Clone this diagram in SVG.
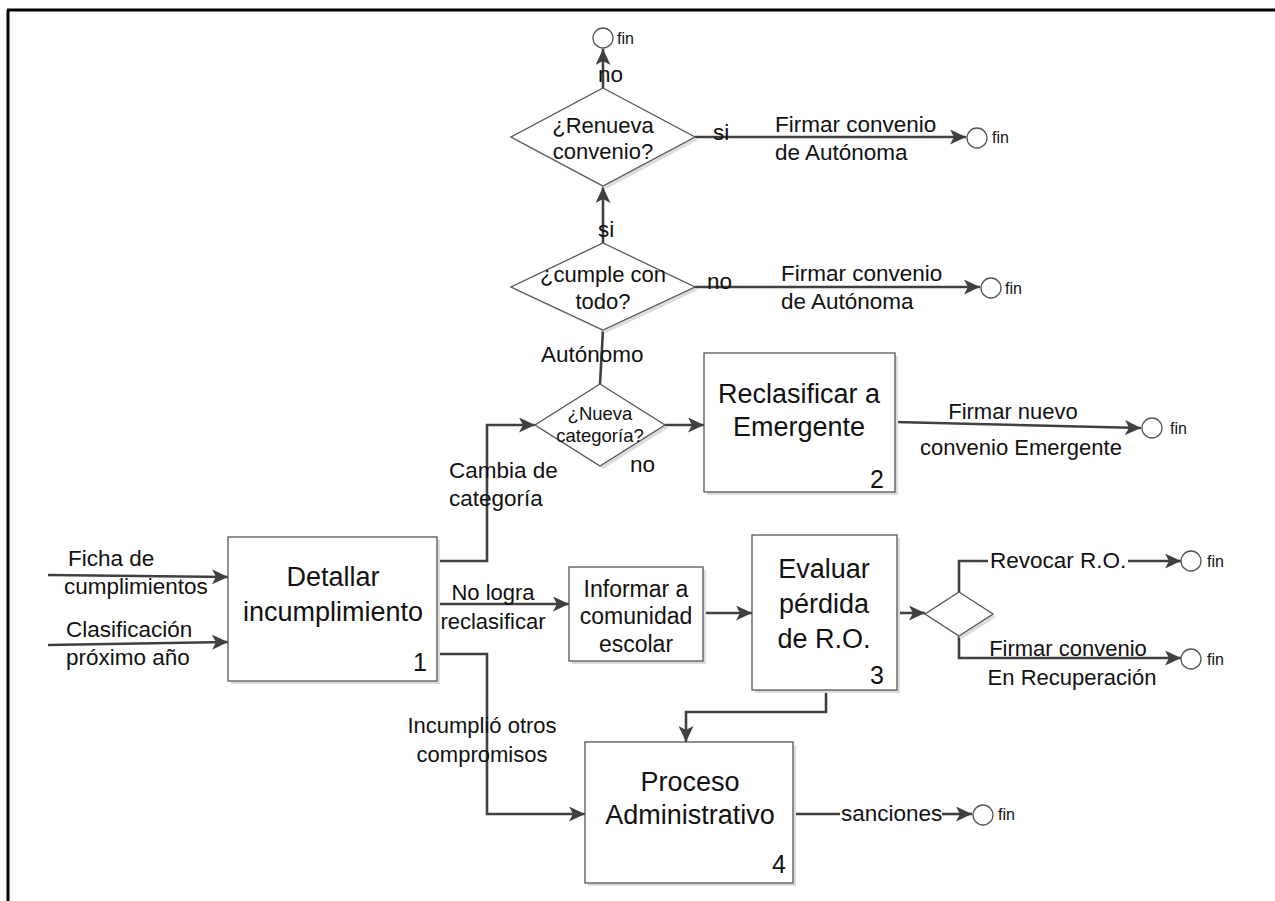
<svg xmlns="http://www.w3.org/2000/svg" width="1275" height="901" viewBox="0 0 1275 901">
<style>
text{font-family:"Liberation Sans",Arial,sans-serif;fill:#111}
.big{font-size:27px;text-anchor:middle}
.mid{font-size:23px;text-anchor:middle}
.lbl{font-size:22.5px}
.lblc{font-size:22px;text-anchor:middle}
.dtx{font-size:22px;text-anchor:middle}
.sm{font-size:16px}
.num{font-size:25px;text-anchor:end}
.box{fill:#fff;stroke:#555;stroke-width:1.3}
.shd{fill:#dcdcdc}
.dia{fill:#fff;stroke:#555;stroke-width:1.3}
.end{fill:#fff;stroke:#555;stroke-width:1.3}
.c{fill:none;stroke:#404040;stroke-width:2.6}
</style>
<defs>
<marker id="arr" markerUnits="userSpaceOnUse" markerWidth="17" markerHeight="15" refX="16" refY="7.5" orient="auto">
<path d="M0,0 L16,7.5 L0,15 L4,7.5 z" fill="#404040"/>
</marker>
</defs>
<rect width="1275" height="901" fill="#fff"/>
<path d="M7,10 H1275 M8,10 V901" fill="none" stroke="#000" stroke-width="3"/>

<g id="connectors">
<path class="c" d="M603,88 V49" marker-end="url(#arr)"/>
<path class="c" d="M695,137 H966" marker-end="url(#arr)"/>
<path class="c" d="M603,243 V187" marker-end="url(#arr)"/>
<path class="c" d="M695,287 H980" marker-end="url(#arr)"/>
<path class="c" d="M600,384 L603,330"/>
<path class="c" d="M437,561 H487 V425 H535" marker-end="url(#arr)"/>
<path class="c" d="M665,425 H704" marker-end="url(#arr)"/>
<path class="c" d="M895,422 L1141,428" marker-end="url(#arr)"/>
<path class="c" d="M48,575 L228,577" marker-end="url(#arr)"/>
<path class="c" d="M48,645 L228,642" marker-end="url(#arr)"/>
<path class="c" d="M437,604 H569" marker-end="url(#arr)"/>
<path class="c" d="M703,613 H752" marker-end="url(#arr)"/>
<path class="c" d="M897,613 H925" marker-end="url(#arr)"/>
<path class="c" d="M959,592 V561 H988"/>
<path class="c" d="M1128,561 H1181" marker-end="url(#arr)"/>
<path class="c" d="M959,636 V658 H1181" marker-end="url(#arr)"/>
<path class="c" d="M826,690 V712 H686 V742" marker-end="url(#arr)"/>
<path class="c" d="M437,654 H487 V814 H585" marker-end="url(#arr)"/>
<path class="c" d="M793,814 H840"/>
<path class="c" d="M942,814 H972" marker-end="url(#arr)"/>
</g>

<g id="labels">
<text class="lbl" x="598" y="82">no</text>
<text class="lbl" x="713" y="140">si</text>
<text class="lbl" x="775" y="132">Firmar convenio</text>
<text class="lbl" x="775" y="160">de Autónoma</text>
<text class="lbl" x="598" y="237">si</text>
<text class="lbl" x="707" y="289">no</text>
<text class="lbl" x="781" y="281">Firmar convenio</text>
<text class="lbl" x="781" y="309">de Autónoma</text>
<text class="lbl" x="541" y="362">Autónomo</text>
<text class="lbl" x="449" y="478">Cambia de</text>
<text class="lbl" x="449" y="506">categoría</text>
<text class="lbl" x="630" y="472">no</text>
<text class="lblc" x="1013" y="419">Firmar nuevo</text>
<text class="lblc" x="1021" y="455">convenio Emergente</text>
<text class="lbl" x="68" y="566">Ficha de</text>
<text class="lbl" x="64" y="594">cumplimientos</text>
<text class="lbl" x="66" y="637">Clasificación</text>
<text class="lbl" x="66" y="665">próximo año</text>
<text class="lblc" x="493" y="600">No logra</text>
<text class="lblc" x="493" y="629">reclasificar</text>
<text class="lbl" x="990" y="568">Revocar R.O.</text>
<text class="lblc" x="1068" y="656">Firmar convenio</text>
<text class="lblc" x="1072" y="685">En Recuperación</text>
<text class="lblc" x="482" y="733">Incumplió otros</text>
<text class="lblc" x="482" y="762">compromisos</text>
<text class="lbl" x="841" y="821">sanciones</text>
</g>

<g id="renueva">
<polygon class="shd" points="606,91 698,140 606,189 514,140"/>
<polygon class="dia" points="603,88 695,137 603,186 511,137"/>
<text class="dtx" x="603" y="133">¿Renueva</text>
<text class="dtx" x="603" y="159">convenio?</text>
</g>
<g id="cumple">
<polygon class="shd" points="606,246 698,290 606,333 514,290"/>
<polygon class="dia" points="603,243 695,287 603,330 511,287"/>
<text class="dtx" x="603" y="282">¿cumple con</text>
<text class="dtx" x="603" y="309">todo?</text>
</g>
<g id="nueva">
<polygon class="shd" points="603,387 668,428 603,469 538,428"/>
<polygon class="dia" points="600,384 665,425 600,466 535,425"/>
<text x="600" y="420" style="font-size:18.5px;text-anchor:middle">¿Nueva</text>
<text x="600" y="442" style="font-size:18.5px;text-anchor:middle">categoría?</text>
</g>
<g id="ro-decision">
<polygon class="shd" points="962,595 996,617 962,639 928,617"/>
<polygon class="dia" points="959,592 993,614 959,636 925,614"/>
</g>

<g id="detallar">
<rect class="shd" x="231" y="540" width="209" height="144"/>
<rect class="box" x="228" y="537" width="209" height="144"/>
<text class="big" x="333" y="586">Detallar</text>
<text class="big" x="333" y="621">incumplimiento</text>
<text class="num" x="427" y="671">1</text>
</g>
<g id="reclasificar">
<rect class="shd" x="707" y="356" width="191" height="139"/>
<rect class="box" x="704" y="353" width="191" height="139"/>
<text class="big" x="799" y="403">Reclasificar a</text>
<text class="big" x="799" y="436">Emergente</text>
<text class="num" x="884" y="488">2</text>
</g>
<g id="informar">
<rect class="shd" x="572" y="570" width="134" height="94"/>
<rect class="box" x="569" y="567" width="134" height="94"/>
<text class="mid" x="636" y="597">Informar a</text>
<text class="mid" x="636" y="624">comunidad</text>
<text class="mid" x="636" y="652">escolar</text>
</g>
<g id="evaluar">
<rect class="shd" x="755" y="538" width="145" height="155"/>
<rect class="box" x="752" y="535" width="145" height="155"/>
<text class="big" x="824" y="578">Evaluar</text>
<text class="big" x="824" y="613">pérdida</text>
<text class="big" x="824" y="648">de R.O.</text>
<text class="num" x="884" y="684">3</text>
</g>
<g id="proceso">
<rect class="shd" x="588" y="745" width="208" height="141"/>
<rect class="box" x="585" y="742" width="208" height="141"/>
<text class="big" x="690" y="791">Proceso</text>
<text class="big" x="690" y="824">Administrativo</text>
<text class="num" x="786" y="873">4</text>
</g>

<g id="fin1"><circle class="end" cx="603" cy="38" r="10"/><text class="sm" x="617" y="44">fin</text></g>
<g id="fin2"><circle class="end" cx="977" cy="138" r="10"/><text class="sm" x="992" y="143">fin</text></g>
<g id="fin3"><circle class="end" cx="991" cy="288" r="10"/><text class="sm" x="1005" y="294">fin</text></g>
<g id="fin4"><circle class="end" cx="1152" cy="428" r="10"/><text class="sm" x="1170" y="434">fin</text></g>
<g id="fin5"><circle class="end" cx="1191" cy="561" r="10"/><text class="sm" x="1207" y="567">fin</text></g>
<g id="fin6"><circle class="end" cx="1191" cy="659" r="10"/><text class="sm" x="1207" y="665">fin</text></g>
<g id="fin7"><circle class="end" cx="983" cy="815" r="10"/><text class="sm" x="998" y="820">fin</text></g>
</svg>
